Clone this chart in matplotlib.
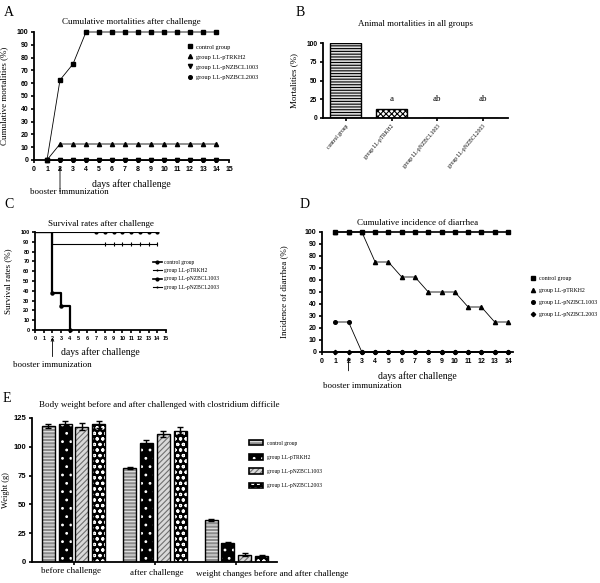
import numpy as np
import matplotlib
matplotlib.use("Agg")
import matplotlib.pyplot as plt
from matplotlib.patches import Patch
from matplotlib.lines import Line2D

plt.rcParams['hatch.linewidth'] = 0.8

SERIF = 'Liberation Serif'
TICKF = dict(family='Liberation Sans', weight='bold')

groups = ['control group', 'group LL-pTRKH2', 'group LL-pNZBCL1003', 'group LL-pNZBCL2003']

# Panel A: cumulative mortalities
daysA = np.arange(1, 15)
mortA_control = [0, 62.5, 75, 100, 100, 100, 100, 100, 100, 100, 100, 100, 100, 100]
mortA_trkh2 = [0, 12.5, 12.5, 12.5, 12.5, 12.5, 12.5, 12.5, 12.5, 12.5, 12.5, 12.5, 12.5, 12.5]
mortA_1003 = [0] * 14
mortA_2003 = [0] * 14

# Panel B: animal mortalities
mortB = [100, 12.5, 0, 0]
sigB = ['', 'a', 'ab', 'ab']

# Panel C: survival (Kaplan-Meier steps)
survC_control_days = [0, 2, 3, 4]
survC_control = [100, 37.5, 25, 0]
survC_trkh2_days = [0, 2, 14]
survC_trkh2 = [100, 87.5, 87.5]
survC_trkh2_censor = [8, 9, 10, 11, 12, 13, 14]
survC_nz_days = [0, 14]
survC_nz = [100, 100]
survC_nz_censor = [7, 8, 9, 10, 11, 12, 13, 14]

# Panel D: cumulative incidence of diarrhea
daysD = np.arange(1, 15)
diaD_control = [100] * 14
diaD_trkh2 = [100, 100, 100, 75, 75, 62.5, 62.5, 50, 50, 50, 37.5, 37.5, 25, 25]
diaD_1003 = [25, 25, 0, 0, 0, 0, 0, 0, 0, 0, 0, 0, 0, 0]
diaD_2003 = [0] * 14

# Panel E: body weight
phasesE = ['before challenge', 'after challenge', 'weight changes before and after challenge']
wE_control = [118, 81.5, 36.5]
wE_trkh2 = [120, 103.5, 16.5]
wE_1003 = [117.5, 111, 6.5]
wE_2003 = [119.5, 114, 5.5]
eE_control = [2, 1, 1]
eE_trkh2 = [2.5, 2.5, 1]
eE_1003 = [3, 2.5, 1]
eE_2003 = [3, 3, 1]

W, H = 600, 583
fig = plt.figure(figsize=(W / 100, H / 100), dpi=100)


def ax_px(l, t, r, b):
    return fig.add_axes([l / W, 1 - b / H, (r - l) / W, (b - t) / H])


def style(ax, fs=5):
    for s in ['top', 'right']:
        ax.spines[s].set_visible(False)
    for s in ['left', 'bottom']:
        ax.spines[s].set_linewidth(1.3)
    ax.tick_params(width=1.2, length=2.5, pad=1.5, labelsize=fs)
    for lab in ax.get_xticklabels() + ax.get_yticklabels():
        lab.set_fontfamily(TICKF['family'])
        lab.set_fontweight('bold')


def booster(ax, x, y_from, y_to, ty, dx=0):
    ax.annotate('', xy=(x, y_to), xycoords=('data', 'axes fraction'),
                xytext=(x, y_from), textcoords=('data', 'axes fraction'),
                arrowprops=dict(arrowstyle='->', lw=0.6, color='black', mutation_scale=5),
                annotation_clip=False)
    ax.annotate('booster immunization', xy=(x, ty), xycoords=('data', 'axes fraction'),
                xytext=(dx, 0), textcoords='offset points',
                ha='center', va='center', fontsize=6.5, family=SERIF,
                annotation_clip=False)


# ---------------- Panel A ----------------
axA = ax_px(34, 32, 229, 160)
axA.plot(daysA, mortA_control, '-s', color='black', lw=0.6, ms=3, clip_on=False, label=groups[0])
axA.plot(daysA, mortA_trkh2, '-^', color='black', lw=0.6, ms=3, clip_on=False, label=groups[1])
axA.plot(daysA, mortA_1003, '-v', color='black', lw=0.6, ms=3, clip_on=False, label=groups[2])
axA.plot(daysA, mortA_2003, '-o', color='black', lw=0.6, ms=2.6, clip_on=False, label=groups[3])
axA.set_xlim(0, 15)
axA.set_ylim(0, 100)
axA.set_xticks(range(0, 16))
axA.set_yticks(range(0, 101, 10))
style(axA, 5)
axA.set_title('Cumulative mortalities after challenge', family=SERIF, fontsize=6.5, pad=6)
axA.set_xlabel('days after challenge', family=SERIF, fontsize=7, labelpad=5)
axA.set_ylabel('Cumulative mortalities (%)', family=SERIF, fontsize=6.5, labelpad=6)
hA = [Line2D([], [], ls='none', marker=m, color='black', ms=ms)
      for m, ms in zip(['s', '^', 'v', 'o'], [3, 3, 3, 2.6])]
fig.legend(hA, groups, loc='upper left', bbox_to_anchor=(184 / W, 1 - 41 / H), frameon=False,
           prop=dict(family=SERIF, size=4.5), labelspacing=0.75, handlelength=1.0,
           handletextpad=0.5, borderpad=0)
booster(axA, 2, -0.27, -0.03, -0.25, dx=7)

# ---------------- Panel B ----------------
axB = ax_px(323, 43, 508, 118)
xB = np.arange(len(groups))
bB = axB.bar(xB, mortB, width=0.68, color='#bdbdbd', edgecolor='black', lw=1.0)
bB[0].set_hatch('------')
bB[0].set_facecolor('#e0e0e0')
bB[1].set_hatch('xxxxxx')
bB[1].set_facecolor('white')
for xi, s in zip(xB, sigB):
    if s:
        axB.text(xi, 25, s, ha='center', va='center', family=SERIF, fontsize=6.5)
axB.set_xlim(-0.5, 3.55)
axB.set_ylim(0, 100)
axB.set_yticks([0, 25, 50, 75, 100])
axB.set_xticks(xB)
axB.set_xticklabels(groups, rotation=50, ha='right', rotation_mode='anchor')
style(axB, 4.8)
for lab in axB.get_xticklabels():
    lab.set_fontfamily(SERIF)
    lab.set_fontweight('normal')
    lab.set_fontsize(4.0)
axB.set_title('Animal mortalities in all groups', family=SERIF, fontsize=6.5, pad=12)
axB.set_ylabel('Mortalities (%)', family=SERIF, fontsize=6.5, labelpad=6)

# ---------------- Panel C ----------------
axC = ax_px(35, 232, 166, 330)
axC.plot(survC_nz_days, survC_nz, drawstyle='steps-post', color='black', lw=0.8)
axC.plot(survC_nz_censor, [100] * len(survC_nz_censor), ls='none', marker='o', ms=2, color='black')
axC.plot(survC_trkh2_days, survC_trkh2, drawstyle='steps-post', color='black', lw=0.8)
axC.plot(survC_trkh2_censor, [87.5] * len(survC_trkh2_censor), ls='none', marker='|', ms=3,
         mew=0.8, color='black')
axC.plot(survC_control_days, survC_control, drawstyle='steps-post', color='black', lw=1.6)
axC.plot(survC_control_days[1:], survC_control[1:], ls='none', marker='o', ms=2.2, color='black',
         clip_on=False)
axC.set_xlim(0, 15)
axC.set_ylim(0, 100)
axC.set_xticks(range(0, 16))
axC.set_yticks(range(0, 101, 10))
style(axC, 4)
axC.set_title('Survival rates after challenge', family=SERIF, fontsize=6.5, pad=4)
axC.set_xlabel('days after challenge', family=SERIF, fontsize=7, labelpad=5)
axC.set_ylabel('Survival rates (%)', family=SERIF, fontsize=6.5, labelpad=6)
hC = [Line2D([], [], color='black', lw=lw, marker=m, ms=2)
      for lw, m in zip([1.2, 0.8, 1.2, 0.8], ['o', '|', 'o', '|'])]
fig.legend(hC, groups, loc='upper left', bbox_to_anchor=(150 / W, 1 - 257 / H), frameon=False,
           prop=dict(family=SERIF, size=4.0), labelspacing=0.6, handlelength=1.6,
           handletextpad=0.5, borderpad=0)
booster(axC, 2, -0.3, -0.05, -0.36, dx=0)

# ---------------- Panel D ----------------
axD = ax_px(322, 232, 513, 352)
axD.plot(daysD, diaD_control, '-s', color='black', lw=1.2, ms=3, clip_on=False)
axD.plot(daysD, diaD_trkh2, '-^', color='black', lw=0.6, ms=3, clip_on=False)
axD.plot(daysD, diaD_1003, '-o', color='black', lw=0.6, ms=2.6, clip_on=False)
axD.plot(daysD, diaD_2003, '-D', color='black', lw=1.2, ms=2.2, clip_on=False)
axD.set_xlim(0, 14.38)
axD.set_ylim(0, 100)
axD.set_xticks(range(0, 15))
axD.set_yticks(range(0, 101, 10))
style(axD, 5)
axD.set_title('Cumulative incidence of diarrhea', family=SERIF, fontsize=6.5, pad=5)
axD.set_xlabel('days after challenge', family=SERIF, fontsize=7, labelpad=5)
axD.set_ylabel('Incidence of diarrhea (%)', family=SERIF, fontsize=6.5, labelpad=12)
hD = [Line2D([], [], ls='none', marker=m, color='black', ms=ms)
      for m, ms in zip(['s', '^', 'o', 'D'], [3, 3, 2.6, 2.2])]
fig.legend(hD, groups, loc='upper left', bbox_to_anchor=(527 / W, 1 - 273 / H), frameon=False,
           prop=dict(family=SERIF, size=4.2), labelspacing=1.2, handlelength=1.0,
           handletextpad=0.5, borderpad=0)
booster(axD, 2, -0.18, -0.02, -0.28, dx=10)

# ---------------- Panel E ----------------
axE = ax_px(32, 418, 277, 562)
xE = np.arange(len(phasesE))
bw, step = 0.16, 0.207
specs = [
    (wE_control, eE_control, '#8c8c8c', '#e6e6e6', '-----'),
    (wE_trkh2, eE_trkh2, 'black', 'white', '..'),
    (wE_1003, eE_1003, '#d9d9d9', '#707070', '//////'),
    (wE_2003, eE_2003, 'black', 'white', 'ooo'),
]
handlesE = []
for i, (vals, errs, fc, hc, hatch) in enumerate(specs):
    pos = xE + (i - 1.5) * step
    axE.bar(pos, vals, width=bw, color=fc, edgecolor=hc, hatch=hatch, lw=0)
    axE.bar(pos, vals, width=bw, facecolor='none', edgecolor='black', lw=1.0,
            yerr=errs, error_kw=dict(ecolor='black', elinewidth=1.0, capsize=2.5, capthick=1.0))
    handlesE.append((Patch(facecolor=fc, edgecolor=hc, hatch=hatch, lw=0),
                     Patch(facecolor='none', edgecolor='black', lw=1.2)))
axE.set_xlim(-0.51, 2.50)
axE.set_ylim(0, 125)
axE.set_yticks([0, 25, 50, 75, 100, 125])
axE.set_xticks(xE)
axE.set_xticklabels(['', '', ''])
style(axE, 5.5)
for xi, lab, dx, dy in zip(xE, phasesE, [-3, 2, 36], [-9, -11, -12]):
    axE.annotate(lab, xy=(xi, 0), xycoords=('data', 'axes fraction'),
                 xytext=(dx, dy), textcoords='offset pixels', ha='center', va='center',
                 family=SERIF, fontsize=6.5, annotation_clip=False)
axE.set_title('Body weight before and after challenged with clostridium difficile',
              family=SERIF, fontsize=6.5, pad=8, loc='left', x=0.03)
axE.set_ylabel('Weight (g)', family=SERIF, fontsize=6, labelpad=3)
fig.legend(handlesE, groups, loc='upper left', bbox_to_anchor=(246 / W, 1 - 437 / H), frameon=False,
           prop=dict(family=SERIF, size=4.0), labelspacing=1.55, handlelength=2.6, handleheight=1.2,
           handletextpad=0.6, borderpad=0)

# ---------------- Panel letters ----------------
for letter, (x, y) in {'A': (4, 12), 'B': (296, 12), 'C': (4, 204), 'D': (300, 204), 'E': (3, 399)}.items():
    fig.text(x / W, 1 - y / H, letter, family=SERIF, fontsize=10, va='center', ha='left')

fig.savefig('out.png', dpi=100)
